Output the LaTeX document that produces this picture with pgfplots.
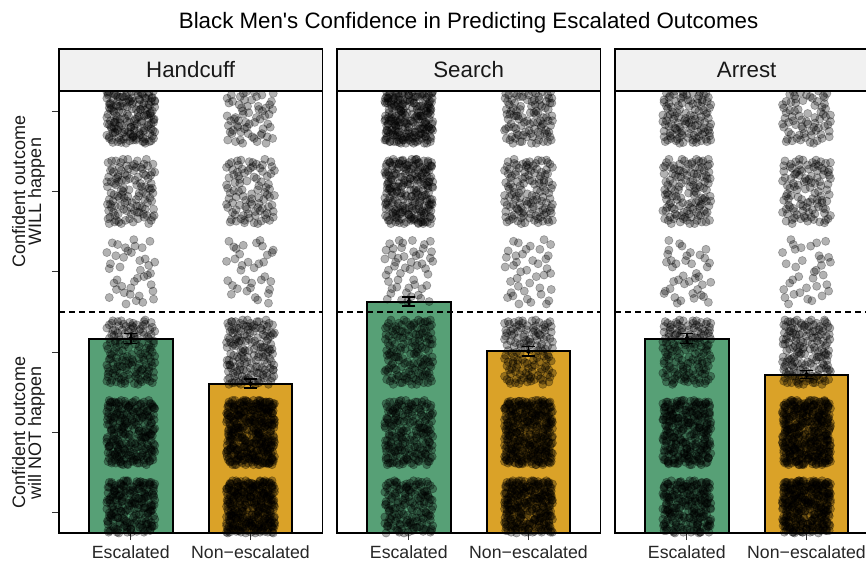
\documentclass[border=0pt]{standalone}
\usepackage{fontspec}
\setmainfont{Liberation Sans}
\usepackage{pgfplots}
\usepackage{pgfplotstable}
\pgfplotsset{compat=1.18}

\definecolor{escg}{RGB}{87,160,118}
\definecolor{neso}{RGB}{218,162,40}
\definecolor{stripf}{RGB}{241,241,241}

% hand-typed jitter offsets (dx within +-0.2, dy within +-0.4)
\pgfplotstableread{
dx dy
0.13 -0.27
-0.08 0.35
0.02 -0.06
-0.17 0.12
0.19 0.31
-0.11 -0.38
0.07 0.18
-0.03 -0.21
0.16 0.04
-0.19 -0.14
0.05 0.39
-0.14 0.27
0.10 -0.33
-0.01 0.09
0.18 -0.17
-0.06 -0.02
0.12 0.23
-0.16 0.36
0.00 -0.29
0.08 -0.39
-0.12 0.01
0.15 0.14
-0.04 0.30
0.20 -0.08
-0.18 -0.31
0.03 0.22
-0.09 -0.12
0.11 -0.24
-0.15 0.19
0.06 0.06
-0.02 -0.36
0.17 0.38
-0.07 0.15
0.14 -0.01
-0.20 0.05
0.01 0.33
-0.10 -0.25
0.09 -0.15
-0.13 -0.05
0.19 0.20
-0.05 -0.34
0.04 0.11
-0.17 -0.22
0.12 0.37
-0.08 0.24
0.16 -0.36
-0.01 0.16
0.07 -0.28
-0.19 0.32
0.10 0.00
-0.12 -0.40
0.02 0.28
-0.15 -0.09
0.18 0.09
-0.06 0.40
0.13 -0.11
-0.03 -0.18
0.08 0.34
-0.16 0.07
0.05 -0.23
-0.10 0.21
0.20 -0.30
-0.14 -0.19
0.00 0.13
0.15 0.26
-0.07 -0.07
0.11 -0.38
-0.20 -0.26
0.03 -0.13
-0.09 0.37
0.17 0.02
-0.04 0.25
0.09 0.17
-0.18 0.17
0.14 -0.21
-0.11 0.10
0.06 0.30
-0.02 -0.31
0.19 -0.04
-0.13 0.34
0.01 -0.37
-0.16 -0.03
0.12 0.07
-0.05 -0.16
0.16 0.35
-0.08 -0.29
0.04 0.19
-0.19 0.25
0.10 -0.19
-0.01 0.03
0.18 -0.34
-0.14 0.04
0.07 -0.02
-0.10 -0.33
0.13 0.29
-0.06 0.20
0.02 -0.26
-0.17 -0.37
0.20 0.16
-0.03 0.39
0.09 -0.10
-0.12 0.29
0.15 -0.27
-0.07 0.08
0.05 0.36
-0.15 -0.17
0.11 0.12
-0.20 0.13
0.00 -0.20
0.17 -0.12
-0.09 0.22
0.06 -0.35
-0.04 -0.10
0.14 0.21
-0.18 0.38
0.03 0.05
-0.11 -0.21
0.19 0.27
-0.02 0.12
0.08 0.39
-0.16 -0.28
0.12 -0.06
-0.06 0.33
0.01 -0.14
0.16 -0.22
-0.13 0.16
0.04 -0.32
-0.08 0.02
0.18 0.24
-0.19 -0.11
0.10 0.32
-0.03 -0.24
0.07 0.10
-0.14 0.31
0.15 -0.39
-0.05 0.27
0.02 0.15
-0.17 -0.06
0.13 -0.14
-0.10 0.06
0.20 0.36
-0.01 -0.33
0.09 0.26
-0.12 -0.35
0.05 -0.09
-0.15 0.23
0.17 0.08
-0.07 -0.27
0.11 0.18
-0.18 0.00
}\jt

\pgfplotsset{
  panel/.style={
    width=263.3pt, height=442pt, scale only axis, anchor=south west,
    xmin=0.4, xmax=2.6, ymin=0.75, ymax=6.25,
    xtick={1,2}, xticklabels={Escalated,Non−escalated},
    xtick pos=lower, ytick pos=left,
    tick align=outside, major tick length=7pt,
    minor tick num=0,
    axis on top,
    axis line style={line width=1.1pt, black},
    tick style={line width=1.1pt, black!80},
    xticklabel style={font=\fontsize{17.7pt}{20pt}\selectfont, text=black!85, inner sep=0pt, anchor=base, yshift=-18.3pt},
  },
  pts/.style={only marks, mark=*, mark size=4.1pt,
    mark options={draw=black, fill=black, fill opacity=0.3, draw opacity=0.3, line width=0.6pt}},
  barE/.style={ybar, bar width=0.7, fill=escg, draw=black, line width=2pt},
  barN/.style={ybar, bar width=0.7, fill=neso, draw=black, line width=2pt},
  errb/.style={only marks, mark=none, error bars/.cd, y dir=both, y explicit,
    error bar style={black, line width=1.5pt},
    error mark options={rotate=90, black, mark size=6.5pt, line width=1.5pt}},
  hl/.style={black, line width=1.4pt, dash pattern=on 6pt off 4pt},
}

% jittered points: centre x, level, transform, index range
\newcommand{\jpp}[8]{\addplot[pts] table[x expr={#1+(#3)*(\thisrow{dx})+(#4)*(\thisrow{dy})}, y expr={#2+(#5)*(\thisrow{dx})+(#6)*(\thisrow{dy})}, restrict expr to domain={\coordindex}{#7:#8}]{\jt};}
\newcommand{\va}[4]{\jpp{#1}{#2}{1}{0}{0}{1}{#3}{#4}}
\newcommand{\vb}[4]{\jpp{#1}{#2}{-1}{0}{0}{1}{#3}{#4}}
\newcommand{\vc}[4]{\jpp{#1}{#2}{1}{0}{0}{-1}{#3}{#4}}
\newcommand{\vd}[4]{\jpp{#1}{#2}{-1}{0}{0}{-1}{#3}{#4}}
\newcommand{\ve}[4]{\jpp{#1}{#2}{0}{0.5}{2}{0}{#3}{#4}}
\newcommand{\vf}[4]{\jpp{#1}{#2}{0}{-0.5}{2}{0}{#3}{#4}}
\newcommand{\vg}[4]{\jpp{#1}{#2}{0}{0.5}{-2}{0}{#3}{#4}}
\newcommand{\vh}[4]{\jpp{#1}{#2}{0}{-0.5}{-2}{0}{#3}{#4}}

\newcommand{\ylab}{\fontsize{18pt}{16.2pt}\selectfont}

\begin{document}
\begin{tikzpicture}[x=1pt,y=1pt]
\useasboundingbox (0,0) rectangle (866,562);
\clip (0,0) rectangle (866,562);

% ---------------- Handcuff ----------------
\begin{axis}[panel, at={(59pt,29pt)}, ytick={1,2,3,4,5,6}, yticklabels={}]
\addplot[barE] coordinates {(1,3.17)};
\addplot[barN] coordinates {(2,2.61)};
% Escalated
\va{1}{1}{0}{149} \ve{1}{1}{0}{39} \vh{1}{1}{0}{49}
\vf{1}{2}{0}{149} \vc{1}{2}{60}{99} \vb{1}{2}{0}{49}
\vd{1}{3}{0}{149}
\vg{1}{4}{20}{59}
\vh{1}{5}{25}{144}
\vb{1}{6}{0}{149} \vg{1}{6}{0}{59}
% Non-escalated
\ve{2}{1}{0}{149} \vc{2}{1}{0}{129} \vd{2}{1}{0}{119}
\vg{2}{2}{0}{149} \va{2}{2}{40}{144} \ve{2}{2}{0}{119}
\vh{2}{3}{0}{149} \vf{2}{3}{0}{9}
\va{2}{4}{100}{134}
\vd{2}{5}{10}{104}
\vf{2}{6}{60}{139}
\addplot[errb] coordinates {(1,3.17) +- (0,0.064) (2,2.61) +- (0,0.056)};
\addplot[hl] coordinates {(0.4,3.5) (2.6,3.5)};
\end{axis}

% ---------------- Search ----------------
\begin{axis}[panel, at={(337pt,29pt)}, ytick=\empty]
\addplot[barE] coordinates {(1,3.63)};
\addplot[barN] coordinates {(2,3.01)};
\vc{1}{1}{0}{144} \vf{1}{1}{0}{39}
\vh{1}{2}{0}{149} \vd{1}{2}{0}{39}
\ve{1}{3}{0}{149}
\vb{1}{4}{70}{119}
\vg{1}{5}{0}{149} \va{1}{5}{0}{19} \vb{1}{5}{0}{59}
\vf{1}{6}{0}{149} \vd{1}{6}{100}{149} \vh{1}{6}{0}{79}
\va{2}{1}{0}{149} \vg{2}{1}{30}{94} \vf{2}{1}{0}{119}
\vd{2}{2}{0}{149} \ve{2}{2}{70}{134} \vb{2}{2}{0}{119}
\vb{2}{3}{10}{144}
\vh{2}{4}{60}{99}
\vc{2}{5}{15}{144}
\ve{2}{6}{5}{134}
\addplot[errb] coordinates {(1,3.63) +- (0,0.056) (2,3.01) +- (0,0.06)};
\addplot[hl] coordinates {(0.4,3.5) (2.6,3.5)};
\end{axis}

% ---------------- Arrest ----------------
\begin{axis}[panel, at={(615pt,29pt)}, ytick=\empty]
\addplot[barE] coordinates {(1,3.17)};
\addplot[barN] coordinates {(2,2.72)};
\vg{1}{1}{0}{149} \vb{1}{1}{0}{39} \va{1}{1}{0}{49}
\vb{1}{2}{0}{149} \vh{1}{2}{0}{49} \ve{1}{2}{0}{49}
\va{1}{3}{0}{149}
\vd{1}{4}{100}{139}
\ve{1}{5}{20}{149}
\vc{1}{6}{0}{144}
\vh{2}{1}{0}{149} \va{2}{1}{30}{144} \vb{2}{1}{0}{119}
\vc{2}{2}{0}{149} \vf{2}{2}{20}{119} \vg{2}{2}{0}{119}
\vf{2}{3}{0}{149} \ve{2}{3}{0}{9}
\vg{2}{4}{40}{74}
\va{2}{5}{35}{144}
\vd{2}{6}{20}{109}
\addplot[errb] coordinates {(1,3.17) +- (0,0.06) (2,2.72) +- (0,0.05)};
\addplot[hl] coordinates {(0.4,3.5) (2.6,3.5)};
\end{axis}

% strips
\foreach \xl/\lab in {59/Handcuff,337/Search,615/Arrest}{
  \draw[fill=stripf, line width=1.1pt] (\xl,471) rectangle (\xl+263.3,513);
  \node[anchor=base, inner sep=0pt, font=\fontsize{22.3pt}{26pt}\selectfont, text=black!90] at (\xl+131.65,484.3) {\lab};
}

% title
\node[anchor=base, inner sep=0pt, font=\fontsize{22.3pt}{26pt}\selectfont] at (468.6,533) {Black Men\textquotesingle s Confidence in Predicting Escalated Outcomes};

% y-axis titles
\node[rotate=90, anchor=base, inner sep=0pt, font=\ylab, text=black!90] at (25,370.5) {Confident outcome};
\node[rotate=90, anchor=base, inner sep=0pt, font=\ylab, text=black!90] at (41,370.5) {WILL happen};
\node[rotate=90, anchor=base, inner sep=0pt, font=\ylab, text=black!90] at (25,129.5) {Confident outcome};
\node[rotate=90, anchor=base, inner sep=0pt, font=\ylab, text=black!90] at (41,129.5) {will NOT happen};
\end{tikzpicture}
\end{document}
